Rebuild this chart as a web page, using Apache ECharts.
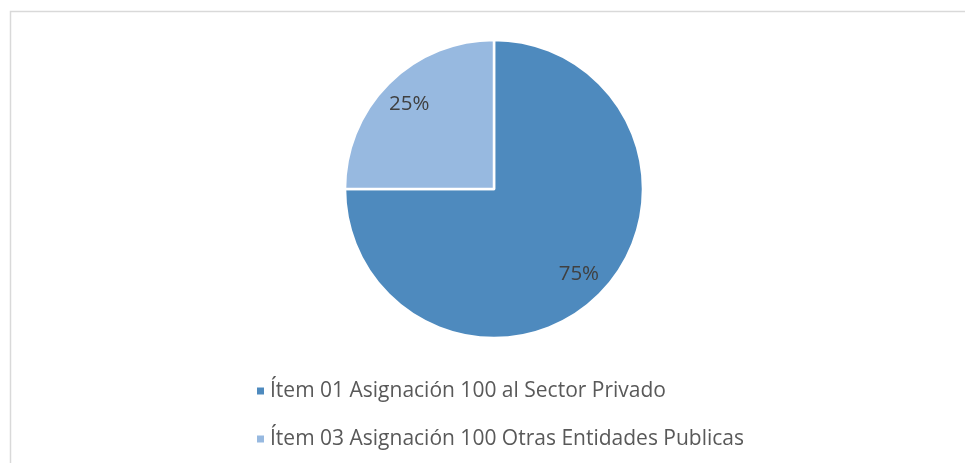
<!DOCTYPE html>
<html>
<head>
<meta charset="utf-8">
<script src="https://cdn.jsdelivr.net/npm/echarts@6/dist/echarts.min.js"></script>
<style>
html,body{margin:0;padding:0;background:#fff;}
#c{width:965px;height:463px;}
</style>
</head>
<body>
<div id="c"></div>
<script>
const categories = ['Ítem 01 Asignación 100 al Sector Privado', 'Ítem 03 Asignación 100 Otras Entidades Publicas'];
const values = [75, 25];
const colors = ['#4e8abe', '#97b9e0'];

const chart = echarts.init(document.getElementById('c'));
const data = categories.map((n, i) => ({ name: n, value: values[i], itemStyle: { color: colors[i] } }));
chart.setOption({
  animation: false,
  graphic: [{
    type: 'rect', left: 8, top: 9,
    shape: { width: 980, height: 480 },
    style: { fill: 'none', stroke: '#d9d9d9', lineWidth: 1.5 },
    silent: true
  }],
  legend: {
    orient: 'vertical', left: 250, top: 374,
    padding: 5,
    itemWidth: 9, itemHeight: 9, itemGap: 24,
    icon: 'rect',
    textStyle: { fontFamily: 'Open Sans', fontSize: 21, color: '#595959', lineHeight: 24 },
    data: categories
  },
  series: [{
    type: 'pie', center: [494, 189], radius: 149,
    startAngle: 90, clockwise: true,
    label: { show: false }, labelLine: { show: false },
    itemStyle: { borderColor: '#fff', borderWidth: 2.5 },
    emphasis: { disabled: true },
    data: data
  }, {
    type: 'pie', center: [494, 189], radius: [85, 149],
    startAngle: 90, clockwise: true, silent: true,
    legendHoverLink: false,
    itemStyle: { color: 'rgba(0,0,0,0)' },
    label: { show: true, position: 'inside', formatter: '{c}%', fontFamily: 'Open Sans', fontSize: 20.5, color: '#404040' },
    labelLine: { show: false },
    emphasis: { disabled: true },
    data: categories.map((n, i) => ({ name: n + ' ', value: values[i] }))
  }]
});
</script>
</body>
</html>
